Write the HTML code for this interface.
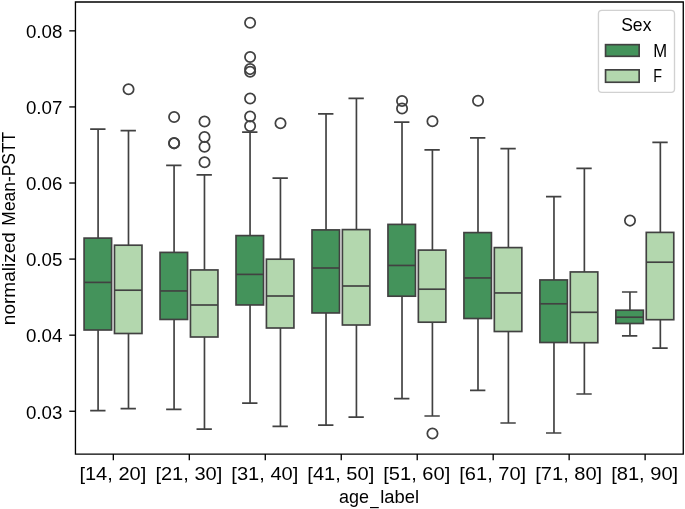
<!DOCTYPE html>
<html lang="en"><head><meta charset="utf-8"><title>normalized Mean-PSTT by age_label and Sex</title>
<style>html,body{margin:0;padding:0;background:#fff}body{width:685px;height:509px;overflow:hidden}svg{display:block;will-change:transform}text{font-family:"Liberation Sans",sans-serif;fill:#000}</style>
</head><body>
<svg width="685" height="509" viewBox="0 0 685 509">
<rect x="0" y="0" width="685" height="509" fill="#fff"/>
<g stroke="#414141" stroke-width="1.67" stroke-linejoin="miter">
<rect x="84.09" y="238.1" width="27.5" height="91.9" fill="#44935b"/>
<rect x="114.48" y="245.2" width="27.5" height="88.3" fill="#b3d7ae"/>
<rect x="160.06" y="252.4" width="27.5" height="67.05" fill="#44935b"/>
<rect x="190.45" y="269.95" width="27.5" height="67.05" fill="#b3d7ae"/>
<rect x="236.03" y="235.6" width="27.5" height="69.35" fill="#44935b"/>
<rect x="266.42" y="259.2" width="27.5" height="68.8" fill="#b3d7ae"/>
<rect x="312" y="229.9" width="27.5" height="83.05" fill="#44935b"/>
<rect x="342.39" y="229.6" width="27.5" height="95.4" fill="#b3d7ae"/>
<rect x="387.97" y="224.4" width="27.5" height="71.8" fill="#44935b"/>
<rect x="418.36" y="250.1" width="27.5" height="72.1" fill="#b3d7ae"/>
<rect x="463.94" y="232.6" width="27.5" height="85.9" fill="#44935b"/>
<rect x="494.33" y="247.6" width="27.5" height="83.9" fill="#b3d7ae"/>
<rect x="539.91" y="279.95" width="27.5" height="62.55" fill="#44935b"/>
<rect x="570.3" y="271.95" width="27.5" height="70.75" fill="#b3d7ae"/>
<rect x="615.88" y="310.2" width="27.5" height="13.3" fill="#44935b"/>
<rect x="646.27" y="232.4" width="27.5" height="87.3" fill="#b3d7ae"/>
</g>
<g stroke="#414141" stroke-width="1.67" fill="none">
<path d="M98.09 238.1V129.2M98.09 330V410.7"/>
<path stroke-linecap="square" d="M91 129.2H104.68M91 410.7H104.68"/>
<path d="M84.09 282.4H111.59"/>
<path d="M128.49 245.2V130.7M128.49 333.5V408.7"/>
<path stroke-linecap="square" d="M121.39 130.7H135.07M121.39 408.7H135.07"/>
<path d="M114.48 290.2H141.98"/>
<path d="M174.07 252.4V165.4M174.07 319.45V409.4"/>
<path stroke-linecap="square" d="M166.97 165.4H180.65M166.97 409.4H180.65"/>
<path d="M160.06 290.95H187.56"/>
<path d="M204.47 269.95V174.95M204.47 337V429.2"/>
<path stroke-linecap="square" d="M197.36 174.95H211.04M197.36 429.2H211.04"/>
<path d="M190.45 305H217.95"/>
<path d="M250.05 235.6V132.2M250.05 304.95V403.2"/>
<path stroke-linecap="square" d="M242.94 132.2H256.62M242.94 403.2H256.62"/>
<path d="M236.03 274.4H263.53"/>
<path d="M280.45 259.2V178.2M280.45 328V426.45"/>
<path stroke-linecap="square" d="M273.33 178.2H287.01M273.33 426.45H287.01"/>
<path d="M266.42 296H293.92"/>
<path d="M326.03 229.9V113.95M326.03 312.95V425.2"/>
<path stroke-linecap="square" d="M318.91 113.95H332.59M318.91 425.2H332.59"/>
<path d="M312 268H339.5"/>
<path d="M356.43 229.6V98.45M356.43 325V417.05"/>
<path stroke-linecap="square" d="M349.3 98.45H362.98M349.3 417.05H362.98"/>
<path d="M342.39 286H369.89"/>
<path d="M402.01 224.4V122.2M402.01 296.2V398.55"/>
<path stroke-linecap="square" d="M394.88 122.2H408.56M394.88 398.55H408.56"/>
<path d="M387.97 265.45H415.47"/>
<path d="M432.41 250.1V149.9M432.41 322.2V416"/>
<path stroke-linecap="square" d="M425.27 149.9H438.95M425.27 416H438.95"/>
<path d="M418.36 289.2H445.86"/>
<path d="M477.99 232.6V137.9M477.99 318.5V390.45"/>
<path stroke-linecap="square" d="M470.85 137.9H484.53M470.85 390.45H484.53"/>
<path d="M463.94 277.95H491.44"/>
<path d="M508.39 247.6V148.7M508.39 331.5V423"/>
<path stroke-linecap="square" d="M501.24 148.7H514.92M501.24 423H514.92"/>
<path d="M494.33 292.95H521.83"/>
<path d="M553.97 279.95V196.7M553.97 342.5V433"/>
<path stroke-linecap="square" d="M546.82 196.7H560.5M546.82 433H560.5"/>
<path d="M539.91 303.8H567.41"/>
<path d="M584.37 271.95V168.45M584.37 342.7V394"/>
<path stroke-linecap="square" d="M577.21 168.45H590.89M577.21 394H590.89"/>
<path d="M570.3 312.3H597.8"/>
<path d="M629.95 310.2V292M629.95 323.5V335.95"/>
<path stroke-linecap="square" d="M622.79 292H636.47M622.79 335.95H636.47"/>
<path d="M615.88 317.2H643.38"/>
<path d="M660.35 232.4V142.45M660.35 319.7V348.2"/>
<path stroke-linecap="square" d="M653.18 142.45H666.86M653.18 348.2H666.86"/>
<path d="M646.27 262.2H673.77"/>
</g>
<g stroke="#414141" stroke-width="1.75" fill="none">
<circle cx="128.54" cy="89.2" r="5.15"/>
<circle cx="174.12" cy="116.95" r="5.15"/>
<circle cx="174.12" cy="143" r="5.15"/>
<circle cx="174.12" cy="143.35" r="5.15"/>
<circle cx="204.52" cy="121.45" r="5.15"/>
<circle cx="204.52" cy="136.95" r="5.15"/>
<circle cx="204.52" cy="146.7" r="5.15"/>
<circle cx="204.52" cy="162.2" r="5.15"/>
<circle cx="250.1" cy="22.76" r="5.15"/>
<circle cx="250.1" cy="57" r="5.15"/>
<circle cx="250.1" cy="69.1" r="5.15"/>
<circle cx="250.1" cy="71.8" r="5.15"/>
<circle cx="250.1" cy="98.45" r="5.15"/>
<circle cx="250.1" cy="116.45" r="5.15"/>
<circle cx="250.1" cy="125.9" r="5.15"/>
<circle cx="280.5" cy="123.2" r="5.15"/>
<circle cx="402.06" cy="101.05" r="5.15"/>
<circle cx="402.06" cy="108.4" r="5.15"/>
<circle cx="432.46" cy="121.2" r="5.15"/>
<circle cx="432.46" cy="433.55" r="5.15"/>
<circle cx="478.04" cy="100.7" r="5.15"/>
<circle cx="630" cy="220.6" r="5.15"/>
</g>
<g stroke="#000" stroke-width="1.33" fill="none">
<path d="M113.33 454.05v6.3"/>
<path d="M189.31 454.05v6.3"/>
<path d="M265.28 454.05v6.3"/>
<path d="M341.25 454.05v6.3"/>
<path d="M417.22 454.05v6.3"/>
<path d="M493.19 454.05v6.3"/>
<path d="M569.15 454.05v6.3"/>
<path d="M645.12 454.05v6.3"/>
<path d="M75.45 411.25h-6.2"/>
<path d="M75.45 335.17h-6.2"/>
<path d="M75.45 259.09h-6.2"/>
<path d="M75.45 183.01h-6.2"/>
<path d="M75.45 106.93h-6.2"/>
<path d="M75.45 30.85h-6.2"/>
<path stroke-linecap="square" d="M75.45 2H683.27V454.05H75.45Z"/>
</g>
<g font-size="17.66">
<text x="112.88" y="479.8" text-anchor="middle" textLength="66.95" lengthAdjust="spacingAndGlyphs">[14, 20]</text>
<text x="188.85" y="479.8" text-anchor="middle" textLength="66.95" lengthAdjust="spacingAndGlyphs">[21, 30]</text>
<text x="264.83" y="479.8" text-anchor="middle" textLength="66.95" lengthAdjust="spacingAndGlyphs">[31, 40]</text>
<text x="340.8" y="479.8" text-anchor="middle" textLength="66.95" lengthAdjust="spacingAndGlyphs">[41, 50]</text>
<text x="416.77" y="479.8" text-anchor="middle" textLength="66.95" lengthAdjust="spacingAndGlyphs">[51, 60]</text>
<text x="492.74" y="479.8" text-anchor="middle" textLength="66.95" lengthAdjust="spacingAndGlyphs">[61, 70]</text>
<text x="568.71" y="479.8" text-anchor="middle" textLength="66.95" lengthAdjust="spacingAndGlyphs">[71, 80]</text>
<text x="644.67" y="479.8" text-anchor="middle" textLength="66.95" lengthAdjust="spacingAndGlyphs">[81, 90]</text>
<text x="25.9" y="418.55" textLength="36.46" lengthAdjust="spacingAndGlyphs">0.03</text>
<text x="25.9" y="342.47" textLength="36.46" lengthAdjust="spacingAndGlyphs">0.04</text>
<text x="25.9" y="266.39" textLength="36.46" lengthAdjust="spacingAndGlyphs">0.05</text>
<text x="25.9" y="190.31" textLength="36.46" lengthAdjust="spacingAndGlyphs">0.06</text>
<text x="25.9" y="114.23" textLength="36.46" lengthAdjust="spacingAndGlyphs">0.07</text>
<text x="25.9" y="38.15" textLength="36.46" lengthAdjust="spacingAndGlyphs">0.08</text>
<text x="339.14" y="503.4" textLength="29.94" lengthAdjust="spacingAndGlyphs">age</text><text x="370.13" y="504.2" textLength="8.4" lengthAdjust="spacingAndGlyphs">_</text><text x="380.26" y="503.4" textLength="38.89" lengthAdjust="spacingAndGlyphs">label</text>
<g transform="translate(14.6 0) rotate(-90)"><text x="-325.18" y="0" textLength="93" lengthAdjust="spacingAndGlyphs">normalized</text><text x="-225.64" y="0" textLength="93.83" lengthAdjust="spacingAndGlyphs">Mean-PSTT</text></g>
<rect x="598.45" y="10.45" width="76.05" height="82" rx="3.4" ry="3.4" fill="#fff" fill-opacity="0.8" stroke="#ccc" stroke-opacity="0.9" stroke-width="1.33"/>
<text x="636.3" y="30.75" text-anchor="middle" textLength="30.3" lengthAdjust="spacingAndGlyphs">Sex</text>
<rect x="605.55" y="44.65" width="33.6" height="11.65" fill="#44935b" stroke="#414141" stroke-width="1.67"/>
<rect x="605.55" y="69.85" width="33.6" height="12.4" fill="#b3d7ae" stroke="#414141" stroke-width="1.67"/>
<text x="653.28" y="56.55" textLength="13.86" lengthAdjust="spacingAndGlyphs">M</text>
<text x="653.25" y="81.6" textLength="8.76" lengthAdjust="spacingAndGlyphs">F</text>
</g>
</svg></body></html>
